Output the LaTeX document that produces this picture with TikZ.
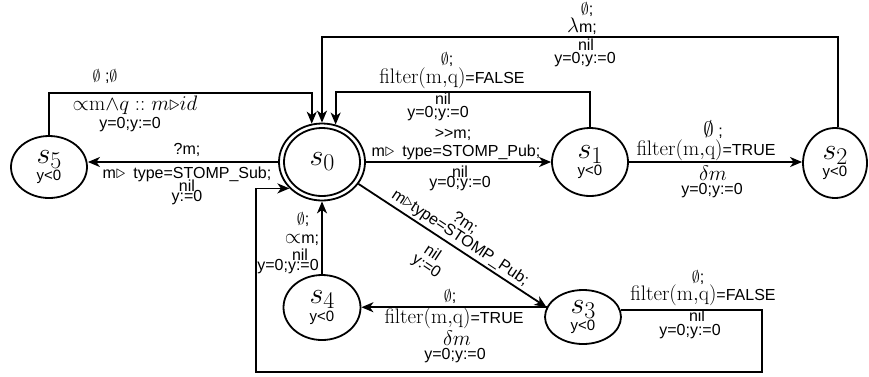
\RequirePackage{fix-cm}
\documentclass[tikz,border=0pt]{standalone}
\usepackage[no-math]{fontspec}
\setmainfont{Liberation Sans}
\usetikzlibrary{arrows.meta,shapes.geometric}
\newcommand{\mth}[1]{{\fontsize{21}{21}\selectfont$#1$}}
\newcommand{\filt}{\mth{\mathrm{filter(m{,}q)}}}
\newcommand{\emp}{$\emptyset$}
\newcommand{\tri}{{\fontsize{19}{19}\selectfont$\triangleright$}}
\newcommand{\sname}[1]{{\fontsize{30}{30}\selectfont$s$\raisebox{-5pt}{\fontsize{24}{24}\selectfont$#1$}}}
\newcommand{\ylt}{{\fontsize{15}{15}\selectfont y<0}}
\begin{document}
\begin{tikzpicture}[x=1pt,y=-1pt,
  st/.style={ellipse, draw, line width=1.8pt, inner sep=0pt, align=center, font=\fontsize{14}{15}\selectfont},
  lab/.style={inner sep=0pt, font=\fontsize{16}{16}\selectfont},
  arr/.style={line width=1.8pt, -{Stealth[length=12pt,width=10pt,inset=3.5pt]}}]
\useasboundingbox (0,0) rectangle (869,376);

% states
\node[st, minimum width=86pt, minimum height=77pt] (s0) at (322,162) {\sname{0}};
\draw[line width=1.8pt] (s0.center) ellipse [x radius=38pt, y radius=34pt];
\node[st, minimum width=76pt, minimum height=62pt] (s5) at (49,167) {\sname{5}\\[1pt]\ylt};
\node[st, minimum width=76pt, minimum height=68pt] (s1) at (590,162) {\sname{1}\\[1pt]\ylt};
\node[st, minimum width=64pt, minimum height=70pt] (s2) at (835,163) {\sname{2}\\[1pt]\ylt};
\node[st, minimum width=76pt, minimum height=54pt] (s3) at (583,317) {\sname{3}\\[1pt]\ylt};
\node[st, minimum width=77pt, minimum height=65pt] (s4) at (322,307.5) {\sname{4}\\[1pt]\ylt};

% corner points
\coordinate (t5) at (48,93);
\coordinate (t1) at (590,92);
\coordinate (t2) at (838,37);
\coordinate (b1) at (762,372);
\coordinate (b2) at (256,372);

% connectors
\draw[arr] (s0.west) -- (s0.west -| s5.east);
\draw[arr] (s0.east) -- (s1.west);
\draw[arr] (s1.east) -- (s1.east -| s2.west);
\draw[arr] (s0.-31) -- (s3.165);
\draw[arr] (s3.165) -- (s3.165 -| s4.east);
\draw[arr] (s4.north) -- (s0.south);
\draw[arr] (s5.north) |- (t5) -| (s0.105);
\draw[arr] (s1.north) |- (t1) -| (s0.70);
\draw[arr] ([xshift=3pt]s2.north) |- (t2) -| (s0.90);
\draw[arr] (s3.11) -| (b1) -| (b2) |- (s0.219);

% s0 -> s1
\node[lab] (a1) at (453,135) {>{}>m;};
\node[lab] (a2) at (456,152) {m\tri\hspace{8pt}type=STOMP\_Pub;};
\node[lab] (a3) at (460,172) {nil};
\node[lab] (a4) at (460,184) {y=0;y:=0};

% s1 -> s0 loop
\node[lab] (b1l) at (447,60) {\emp;};
\node[lab] (b2l) at (452,78) {\filt=FALSE};
\node[lab] (b3l) at (443,99) {nil};
\node[lab] (b4l) at (438,114) {y=0;y:=0};

% s2 -> s0 loop
\node[lab] (c1) at (587,10) {\emp;};
\node[lab] (c2) at (582,26) {\mth{\lambda}m;};
\node[lab] (c3) at (586,45) {nil};
\node[lab] (c4) at (585,60) {y=0;y:=0};

% s5 -> s0 loop
\node[lab] (d1) at (105,77) {\emp\ ;\emp};
\node[lab] (d2) at (135,105) {\mth{{\propto}\mathrm{m}{\wedge}q\;{::}\;m{\triangleright}id}};
\node[lab] (d3) at (130,125) {y=0;y:=0};

% s0 -> s5
\node[lab] (e1) at (187,150) {?m;};
\node[lab] (e2) at (187,174) {m\tri\hspace{8pt}type=STOMP\_Sub;};
\node[lab] (e3) at (187,186) {nil};
\node[lab] (e4) at (187,198) {y:=0};

% s1 -> s2
\node[lab] (f1) at (713,130) {\mth{\emptyset}\ ;};
\node[lab] (f2) at (706,150) {\filt=TRUE};
\node[lab] (f3) at (713,173) {\mth{\delta m}};
\node[lab] (f4) at (712,191) {y=0;y:=0};

% s3 -> s4
\node[lab] (g1) at (450,297) {\emp;};
\node[lab] (g2) at (454,318) {\filt=TRUE};
\node[lab] (g3) at (457,338) {\mth{\delta m}};
\node[lab] (g4) at (455,356) {y=0;y:=0};

% s4 -> s0
\node[lab] (h1) at (303,220) {\emp;};
\node[lab] (h2) at (302,240) {\mth{\propto}m;};
\node[lab] (h3) at (300,255) {nil};
\node[lab] (h4) at (288,267) {y=0;y:=0};

% s3 -> s0 loop
\node[lab] (i1) at (698,278) {\emp;};
\node[lab] (i2) at (703,295) {\filt=FALSE};
\node[lab] (i3) at (697,316) {nil};
\node[lab] (i4) at (690,332) {y=0;y:=0};

% s0 -> s3 diagonal
\node[lab, rotate=-33.5] (j1) at (465,223) {?m;};
\node[lab, rotate=-33.5] (j2) at (460,238) {m\tri type=STOMP\_Pub;};
\node[lab, rotate=-33.5] (j3) at (433,252) {nil};
\node[lab, rotate=-33.5] (j4) at (426,267) {y:=0};
\end{tikzpicture}
\end{document}
